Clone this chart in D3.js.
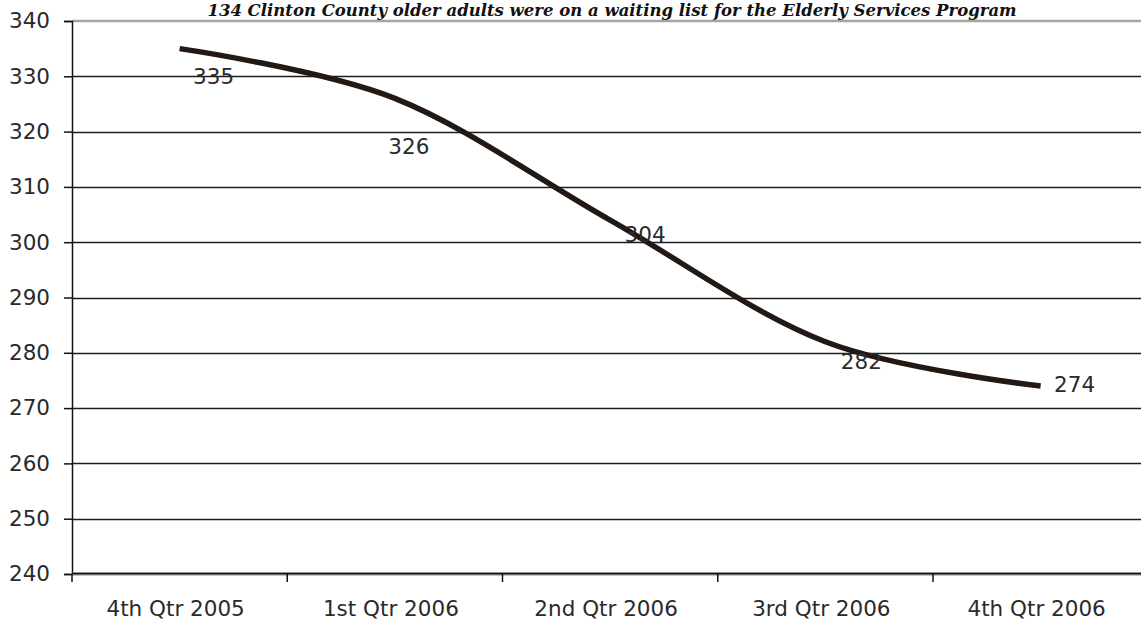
<!DOCTYPE html>
<html>
<head>
<meta charset="utf-8">
<script src="https://cdn.jsdelivr.net/npm/d3@7"></script>
<style>
  html, body { margin: 0; padding: 0; background: #fff; overflow: hidden; }
  svg { display: block; }
</style>
</head>
<body>
<div id="chart"></div>
<script>
// quarters along the bottom
var quarters = ["4th Qtr 2005", "1st Qtr 2006", "2nd Qtr 2006", "3rd Qtr 2006", "4th Qtr 2006"];
// people on the waiting list each quarter
var waitingList = [335, 326, 304, 282, 274];
// y axis ticks
var yTickValues = [240, 250, 260, 270, 280, 290, 300, 310, 320, 330, 340];
var chartTitle = "134 Clinton County older adults were on a waiting list for the Elderly Services Program";

// where each value label sits relative to its point (Excel placed them oddly)
var labelNudge = [[34, 28], [14, 48], [35, 14], [36, 20], [34, -2]];

var width = 1141, height = 620;
var margin = { left: 72, top: 21, bottom: 46 };
var catWidth = 215.25;
var plotW = catWidth * quarters.length;
var plotH = height - margin.top - margin.bottom;

var svg = d3.select("#chart").append("svg")
    .attr("width", width)
    .attr("height", height);

var g = svg.append("g")
    .attr("transform", "translate(" + margin.left + "," + margin.top + ")");

var x = d3.scaleBand()
    .domain(quarters)
    .range([0, plotW]);

var y = d3.scaleLinear()
    .domain([240, 340])
    .range([plotH, 0]);

// gridlines
g.selectAll(".grid")
    .data(yTickValues.filter(function (d) { return d > 240 && d < 340; }))
    .enter().append("line")
    .attr("x1", 0)
    .attr("x2", plotW)
    .attr("y1", function (d) { return Math.round(y(d)) + 0.5; })
    .attr("y2", function (d) { return Math.round(y(d)) + 0.5; })
    .attr("stroke", "#1c1c1c")
    .attr("stroke-width", 1.3);

// top border of plot area
g.append("line")
    .attr("x1", 0).attr("x2", plotW)
    .attr("y1", y(340)).attr("y2", y(340))
    .attr("stroke", "#a8a4a4")
    .attr("stroke-width", 2.5);

var tickFont = "'DejaVu Sans', sans-serif";

// y axis
var yAxis = g.append("g")
    .call(d3.axisLeft(y).tickValues(yTickValues).tickSize(8).tickPadding(14));
yAxis.select(".domain").attr("stroke", "#111").attr("stroke-width", 1.5);
yAxis.selectAll(".tick line").attr("stroke", "#111").attr("stroke-width", 1.5);
yAxis.selectAll(".tick text")
    .attr("font-family", tickFont)
    .attr("font-size", 21.5)
    .attr("fill", "#2a2a2a");

// x axis, ticks between categories
var xEdges = quarters.map(function (q) { return x(q); }).concat([plotW]);
var xAxis = g.append("g")
    .attr("transform", "translate(0," + plotH + ")");
xAxis.append("line")
    .attr("x1", 0).attr("x2", plotW)
    .attr("stroke", "#8a8888")
    .attr("stroke-width", 3);
xAxis.append("line")
    .attr("x1", 0).attr("x2", plotW)
    .attr("y1", -0.5).attr("y2", -0.5)
    .attr("stroke", "#111")
    .attr("stroke-width", 1.3);
xAxis.selectAll(".xtick")
    .data(xEdges)
    .enter().append("line")
    .attr("x1", function (d) { return d; })
    .attr("x2", function (d) { return d; })
    .attr("y1", 0)
    .attr("y2", 8)
    .attr("stroke", "#111")
    .attr("stroke-width", 1.5);
xAxis.selectAll(".xlabel")
    .data(quarters)
    .enter().append("text")
    .attr("x", function (d) { return x(d) + x.bandwidth() / 2 - 4; })
    .attr("y", 34)
    .attr("dy", "0.35em")
    .attr("text-anchor", "middle")
    .attr("font-family", tickFont)
    .attr("font-size", 21.5)
    .attr("fill", "#2a2a2a")
    .text(function (d) { return d; });

// the smoothed line
var line = d3.line()
    .x(function (d, i) { return x(quarters[i]) + x.bandwidth() / 2; })
    .y(function (d) { return y(d); })
    .curve(d3.curveCardinal.tension(0));

g.append("path")
    .datum(waitingList)
    .attr("d", line)
    .attr("fill", "none")
    .attr("stroke", "#221814")
    .attr("stroke-width", 5.5);

// value labels
g.selectAll(".val")
    .data(waitingList)
    .enter().append("text")
    .attr("x", function (d, i) { return x(quarters[i]) + x.bandwidth() / 2 + labelNudge[i][0]; })
    .attr("y", function (d, i) { return y(d) + labelNudge[i][1]; })
    .attr("dy", "0.35em")
    .attr("text-anchor", "middle")
    .attr("font-family", tickFont)
    .attr("font-size", 21.5)
    .attr("fill", "#2a2a2a")
    .text(function (d) { return d; });

// title sits right against the top edge
svg.append("text")
    .attr("x", 612)
    .attr("y", 15.5)
    .attr("text-anchor", "middle")
    .attr("font-family", "'DejaVu Serif', serif")
    .attr("font-style", "italic")
    .attr("font-weight", "bold")
    .attr("font-size", 16.5)
    .attr("fill", "#111")
    .text(chartTitle);
</script>
</body>
</html>
